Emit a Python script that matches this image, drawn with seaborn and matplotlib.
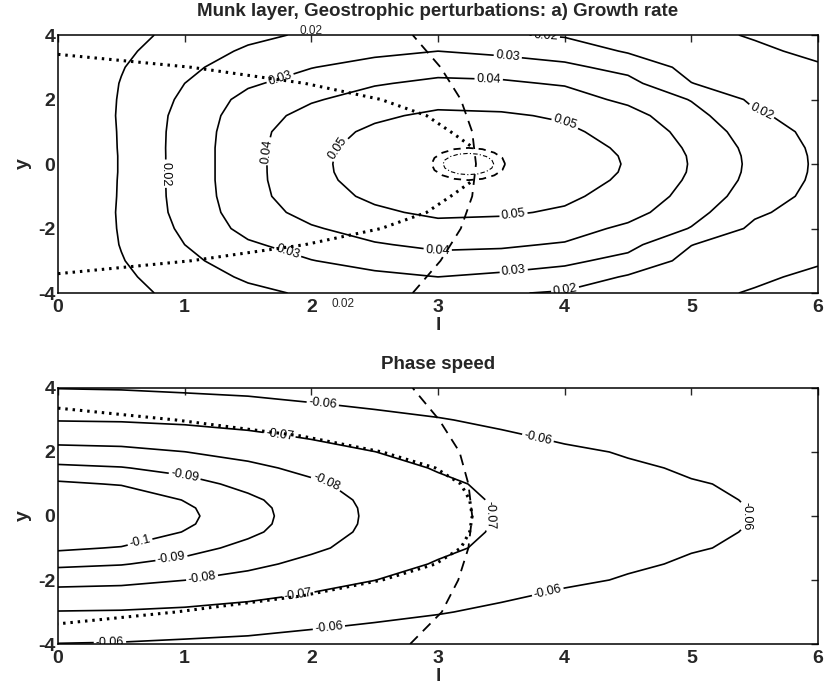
import numpy as np
import matplotlib
matplotlib.use("Agg")
import matplotlib.pyplot as plt
import seaborn as sns

sns.set_style("white")
plt.rcParams['font.family'] = ['Liberation Sans', 'DejaVu Sans']
plt.rcParams['axes.unicode_minus'] = False
plt.rcParams['contour.negative_linestyle'] = 'solid'

# grid nodes (upper half; field is mirrored in y)
l_nodes = [0.0, 0.5, 1.0, 1.5, 2.0, 2.5, 3.0, 3.5, 4.0, 4.5, 5.0, 5.5, 6.0]
y_half = [0.0, 0.25, 0.5, 1.0, 1.5, 2.0, 2.5, 3.0, 3.5, 4.0]

# growth rate, one row per y
g_y00 = [0.0000, 0.0106, 0.0240, 0.0365, 0.0482, 0.0535, 0.0575, 0.0570, 0.0540, 0.0495, 0.0394, 0.0277, 0.0186]
g_y025 = [0.0000, 0.0106, 0.0240, 0.0365, 0.0481, 0.0534, 0.0573, 0.0568, 0.0538, 0.0493, 0.0392, 0.0275, 0.0185]
g_y05 = [0.0000, 0.0107, 0.0240, 0.0365, 0.0478, 0.0530, 0.0568, 0.0563, 0.0533, 0.0487, 0.0385, 0.0270, 0.0182]
g_y10 = [0.0000, 0.0108, 0.0238, 0.0361, 0.0465, 0.0515, 0.0552, 0.0546, 0.0515, 0.0468, 0.0365, 0.0250, 0.0172]
g_y15 = [0.0000, 0.0110, 0.0232, 0.0351, 0.0432, 0.0486, 0.0516, 0.0510, 0.0490, 0.0435, 0.0335, 0.0215, 0.0158]
g_y20 = [0.0000, 0.0108, 0.0218, 0.0330, 0.0390, 0.0440, 0.0472, 0.0468, 0.0440, 0.0380, 0.0295, 0.0180, 0.0142]
g_y25 = [0.0000, 0.0104, 0.0200, 0.0286, 0.0342, 0.0392, 0.0420, 0.0412, 0.0392, 0.0330, 0.0202, 0.0152, 0.0124]
g_y30 = [0.0000, 0.0095, 0.0178, 0.0248, 0.0297, 0.0335, 0.0364, 0.0362, 0.0320, 0.0270, 0.0170, 0.0128, 0.0106]
g_y35 = [0.0000, 0.0080, 0.0158, 0.0212, 0.0252, 0.0278, 0.0300, 0.0275, 0.0258, 0.0190, 0.0140, 0.0110, 0.0088]
g_y40 = [0.0000, 0.0060, 0.0137, 0.0180, 0.0212, 0.0208, 0.0215, 0.0208, 0.0190, 0.0140, 0.0115, 0.0095, 0.0075]

# phase speed, one row per y
p_y00 = [-0.1135, -0.1102, -0.1020, -0.0937, -0.0848, -0.0784, -0.0738, -0.0692, -0.0652, -0.0628, -0.0607, -0.0599, -0.0592]
p_y025 = [-0.1128, -0.1095, -0.1014, -0.0933, -0.0846, -0.0783, -0.0737, -0.0691, -0.0652, -0.0628, -0.0607, -0.0599, -0.0592]
p_y05 = [-0.1106, -0.1074, -0.0996, -0.0920, -0.0840, -0.0779, -0.0733, -0.0689, -0.0650, -0.0626, -0.0606, -0.0598, -0.0591]
p_y10 = [-0.1017, -0.0993, -0.0935, -0.0873, -0.0816, -0.0763, -0.0718, -0.0680, -0.0642, -0.0620, -0.0603, -0.0594, -0.0588]
p_y15 = [-0.0920, -0.0905, -0.0870, -0.0822, -0.0776, -0.0737, -0.0693, -0.0665, -0.0628, -0.0608, -0.0594, -0.0588, -0.0583]
p_y20 = [-0.0830, -0.0824, -0.0801, -0.0770, -0.0733, -0.0701, -0.0664, -0.0640, -0.0612, -0.0595, -0.0585, -0.0580, -0.0576]
p_y25 = [-0.0762, -0.0755, -0.0740, -0.0717, -0.0691, -0.0662, -0.0634, -0.0610, -0.0588, -0.0580, -0.0574, -0.0570, -0.0567]
p_y30 = [-0.0696, -0.0693, -0.0683, -0.0669, -0.0647, -0.0625, -0.0605, -0.0585, -0.0568, -0.0565, -0.0562, -0.0560, -0.0558]
p_y35 = [-0.0643, -0.0644, -0.0634, -0.0622, -0.0604, -0.0587, -0.0574, -0.0562, -0.0550, -0.0550, -0.0550, -0.0550, -0.0549]
p_y40 = [-0.0598, -0.0594, -0.0585, -0.0577, -0.0561, -0.0550, -0.0545, -0.0540, -0.0535, -0.0538, -0.0540, -0.0541, -0.0541]

growth_levels = [0.01, 0.02, 0.03, 0.04, 0.05]
phase_levels = [-0.1, -0.09, -0.08, -0.07, -0.06]

# dotted curves (upper branch, mirrored)
top_dot_y = [3.4, 3.0, 2.5, 2.0, 1.5, 1.0, 0.5]
top_dot_l = [0.0, 1.05, 1.95, 2.55, 2.91, 3.10, 3.28]
bot_dot_y = [3.37, 3.0, 2.5, 2.0, 1.5, 1.0, 0.5, 0.0]
bot_dot_l = [0.0, 0.93, 1.92, 2.56, 2.98, 3.18, 3.25, 3.27]

# dashed curves
dash_y = [-4, -3, -2, -1, 0, 1, 2, 3, 4]
top_dash_l = [2.80, 3.02, 3.18, 3.27, 3.30, 3.27, 3.18, 3.02, 2.80]
bot_dash_l = [2.78, 3.03, 3.16, 3.24, 3.27, 3.24, 3.17, 3.01, 2.80]

# small closed curves near the growth maximum
ring_out_l = [3.53, 3.508, 3.445, 3.351, 3.24, 3.129, 3.035, 2.972, 2.95, 2.972, 3.035, 3.129, 3.24, 3.351, 3.445, 3.508, 3.53]
ring_out_y = [0.0, 0.19, 0.35, 0.46, 0.5, 0.46, 0.35, 0.19, 0.0, -0.19, -0.35, -0.46, -0.5, -0.46, -0.35, -0.19, 0.0]
ring_in_l = [3.44, 3.425, 3.381, 3.317, 3.24, 3.163, 3.099, 3.055, 3.04, 3.055, 3.099, 3.163, 3.24, 3.317, 3.381, 3.425, 3.44]
ring_in_y = [0.0, 0.126, 0.233, 0.305, 0.33, 0.305, 0.233, 0.126, 0.0, -0.126, -0.233, -0.305, -0.33, -0.305, -0.233, -0.126, 0.0]

growth_label_pos = [(0.85, -0.3), (5.55, 1.6), (3.85, 3.9), (4.0, -3.85),
                    (1.75, 2.7), (3.55, 3.3), (1.8, -2.9), (3.6, -3.4),
                    (1.65, 0.4), (3.4, 2.6), (3.0, -2.6),
                    (2.2, 0.5), (4.0, 1.25), (3.6, -1.7)]
phase_label_pos = [(0.65, -0.85), (1.0, 1.25), (0.9, -1.45), (2.11, 0.95), (1.14, -2.0),
                   (1.75, 2.56), (3.37, 0.0), (1.9, -2.48),
                   (2.09, 3.5), (3.79, 2.46), (5.42, 0.0), (3.87, -2.43), (2.14, -3.53), (0.41, -3.93)]


def mirror(rows):
    half = np.array(rows)
    return np.vstack([half[:0:-1], half])


y_full = np.concatenate([-np.array(y_half[:0:-1]), y_half])
G = mirror([g_y00, g_y025, g_y05, g_y10, g_y15, g_y20, g_y25, g_y30, g_y35, g_y40])
P = mirror([p_y00, p_y025, p_y05, p_y10, p_y15, p_y20, p_y25, p_y30, p_y35, p_y40])

dot_style = dict(color='k', lw=2.2, ls=(0, (0.8, 1.6)))
dash_style = dict(color='k', lw=1.3, ls=(0, (6, 4)))


def style_axes(ax, title):
    ax.set_xlim(0, 6)
    ax.set_ylim(-4, 4)
    ax.set_xticks(range(0, 7))
    ax.set_yticks([-4, -2, 0, 2, 4])
    ax.tick_params(direction='in', top=True, right=True, length=5, width=1,
                   labelsize=14)
    ax.tick_params(axis='x', pad=4)
    ax.tick_params(axis='y', pad=2)
    for lab in ax.get_xticklabels() + ax.get_yticklabels():
        lab.set_fontweight('bold')
    for sp in ax.spines.values():
        sp.set_linewidth(1.1)
        sp.set_color('k')
    ax.set_xlabel('l', fontsize=14, fontweight='bold', labelpad=1)
    ax.set_ylabel('y', fontsize=14, fontweight='bold', labelpad=4)
    ax.set_title(title, fontsize=13.5, fontweight='bold', pad=14)


fig = plt.figure(figsize=(8.25, 6.89), dpi=100)
ax1 = fig.add_axes([0.0703, 0.5747, 0.9212, 0.3745])
ax2 = fig.add_axes([0.0703, 0.0653, 0.9212, 0.3716])

# a) growth rate
cs1 = ax1.contour(l_nodes, y_full, G, levels=growth_levels, colors='k', linewidths=1.2)
ax1.clabel(cs1, fmt='%g', fontsize=9, inline=True, inline_spacing=2, manual=growth_label_pos)
for sgn in (1, -1):
    sns.lineplot(x=top_dot_l, y=[sgn * v for v in top_dot_y], sort=False, estimator=None,
                 ax=ax1, **dot_style)
sns.lineplot(x=top_dash_l, y=dash_y, sort=False, estimator=None, ax=ax1, **dash_style)
sns.lineplot(x=ring_out_l, y=ring_out_y, sort=False, estimator=None,
             color='k', lw=1.3, ls=(0, (4, 3)), ax=ax1)
sns.lineplot(x=ring_in_l, y=ring_in_y, sort=False, estimator=None,
             color='k', lw=0.8, ls=(0, (4, 2, 1, 2)), ax=ax1)
ax1.text(2.0, 4.12, '0.02', fontsize=8.5, ha='center', va='center', clip_on=False)
ax1.text(2.25, -4.16, '0.02', fontsize=8.5, ha='center', va='top', clip_on=False)
style_axes(ax1, 'Munk layer, Geostrophic perturbations: a) Growth rate')

# phase speed
cs2 = ax2.contour(l_nodes, y_full, P, levels=phase_levels, colors='k', linewidths=1.2)
ax2.clabel(cs2, fmt='%g', fontsize=9, inline=True, inline_spacing=2, manual=phase_label_pos)
sns.lineplot(x=bot_dot_l + bot_dot_l[-2::-1], y=bot_dot_y + [-v for v in bot_dot_y[-2::-1]],
             sort=False, estimator=None, ax=ax2, **dot_style)
sns.lineplot(x=bot_dash_l, y=dash_y, sort=False, estimator=None, ax=ax2, **dash_style)
style_axes(ax2, 'Phase speed')

fig.savefig('out.png', dpi=100)
